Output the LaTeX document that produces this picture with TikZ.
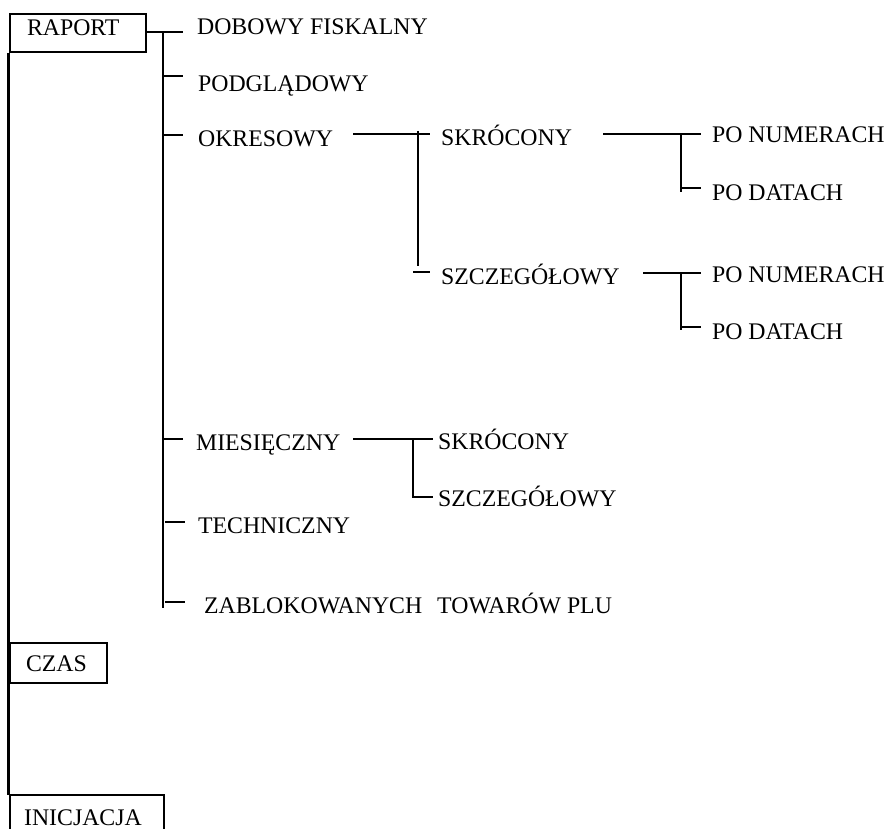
\documentclass[tikz,border=0pt]{standalone}
\usepackage{fontspec}
\setmainfont{Liberation Serif}
\newfontfamily\serfam{Liberation Serif}
\begin{document}
\begin{tikzpicture}[x=1pt,y=-1pt,line width=2.2pt,
  every node/.style={font=\serfam\fontsize{23.8pt}{28pt}\selectfont},
  lab/.style={anchor=base west,inner sep=0pt},
  boxn/.style={draw,line width=2pt,anchor=north west,inner xsep=0pt,inner ysep=0pt,align=left},
  openbox/.style={line width=2pt}]
\useasboundingbox (0,0) rectangle (886,829);
\clip (0,0) rectangle (886,829);
% boxes
\node[boxn,text width=136pt,minimum height=38pt,text height=16pt,text depth=10pt] (raport) at (8.5,13) {\hspace*{17.5pt}RAPORT};
\node[boxn,text width=97pt,minimum height=40pt,text height=16pt,text depth=0pt] (czas) at (8.5,642) {\hspace*{16.5pt}CZAS};
\node[lab] (inic) at (23,825) {INICJACJA};
\coordinate (ib1) at (10,840); \coordinate (ib2) at (10,795);
\coordinate (ib3) at (164,795); \coordinate (ib4) at (164,840);
\draw[openbox] (ib1) -- (ib2) -- (ib3) -- (ib4);
\coordinate (lbot) at (8.5,795);
\draw (raport.south west) -- (lbot);
% level 1
\node[lab] (dob) at (196,35) {DOBOWY FISKALNY};
\node[lab] (pod) at (197,92) {PODGLĄDOWY};
\node[lab] (okr) at (197,147) {OKRESOWY};
\node[lab] (mie) at (195,450) {MIESIĘCZNY};
\node[lab] (tec) at (197,533) {TECHNICZNY};
\node[lab] (zab) at (203,613) {ZABLOKOWANYCH\hspace{15pt}TOWARÓW PLU};
\coordinate (v1t) at (163,32); \coordinate (v1b) at (163,608);
\coordinate (t1) at (183,32);
\coordinate (t2a) at (163,76) ; \coordinate (t2) at (183,76);
\coordinate (t3a) at (163,135); \coordinate (t3) at (183,135);
\coordinate (t4a) at (163,439); \coordinate (t4) at (183,439);
\coordinate (t5a) at (165,522); \coordinate (t5) at (185,522);
\coordinate (t6a) at (165,602); \coordinate (t6) at (185,602);
\draw (raport.east |- t1) -- (t1);
\draw (v1t) -- (v1b);
\draw (t2a) -- (t2); \draw (t3a) -- (t3); \draw (t4a) -- (t4);
\draw (t5a) -- (t5); \draw (t6a) -- (t6);
% OKRESOWY branch
\node[lab] (oskr) at (440,146) {SKRÓCONY};
\node[lab] (oszc) at (440,284) {SZCZEGÓŁOWY};
\coordinate (o1) at (353,134); \coordinate (o2) at (430,134);
\coordinate (ov1) at (418,131); \coordinate (ov2) at (418,266);
\coordinate (ot1) at (413,272); \coordinate (ot2) at (430,272);
\draw (o1) -- (o2); \draw (ov1) -- (ov2); \draw (ot1) -- (ot2);
% SKROCONY -> PO ...
\node[lab] (pn1) at (711,143) {PO NUMERACH};
\node[lab] (pd1) at (711,201) {PO DATACH};
\coordinate (s1) at (603,134); \coordinate (s2) at (701,134);
\coordinate (sv1) at (681,134); \coordinate (sv2) at (681,192);
\coordinate (st1) at (681,188); \coordinate (st2) at (701,188);
\draw (s1) -- (s2); \draw (sv1) -- (sv2); \draw (st1) -- (st2);
% SZCZEGOLOWY -> PO ...
\node[lab] (pn2) at (711,282) {PO NUMERACH};
\node[lab] (pd2) at (711,339) {PO DATACH};
\coordinate (z1) at (643,273); \coordinate (z2) at (701,273);
\coordinate (zv1) at (681,273); \coordinate (zv2) at (681,330);
\coordinate (zt1) at (681,327); \coordinate (zt2) at (701,327);
\draw (z1) -- (z2); \draw (zv1) -- (zv2); \draw (zt1) -- (zt2);
% MIESIECZNY branch
\node[lab] (mskr) at (437,449) {SKRÓCONY};
\node[lab] (mszc) at (437,506) {SZCZEGÓŁOWY};
\coordinate (m1) at (353,439); \coordinate (m2) at (433,439);
\coordinate (mv1) at (413,439); \coordinate (mv2) at (413,497);
\coordinate (mt2) at (433,497);
\draw (m1) -- (m2); \draw (mv1) -- (mv2) -- (mt2);
\end{tikzpicture}
\end{document}
